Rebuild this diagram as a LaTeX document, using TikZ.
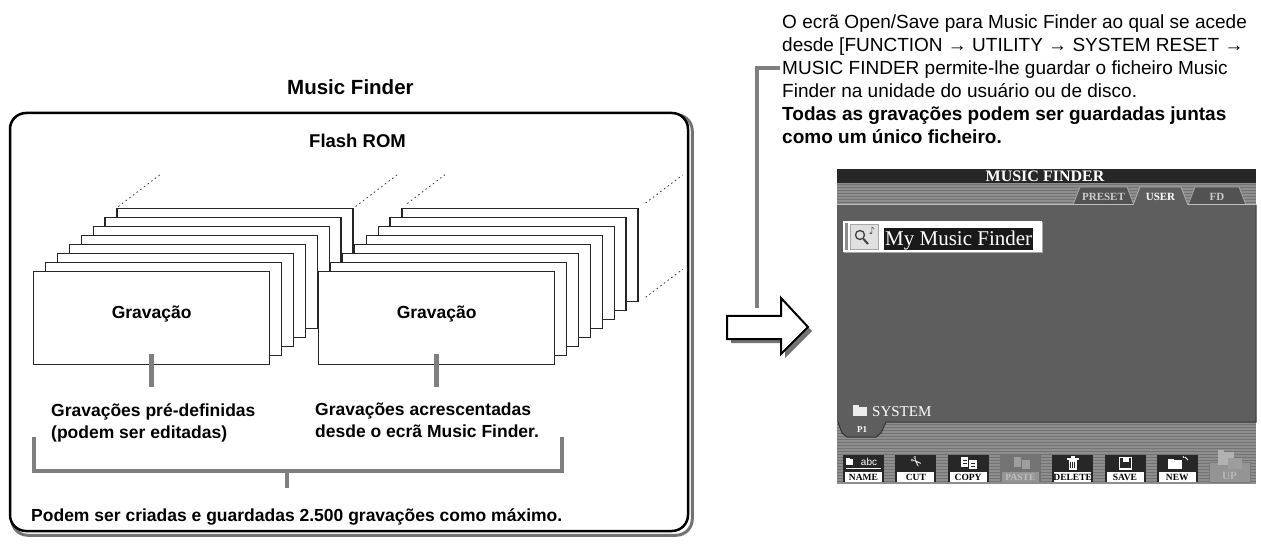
\documentclass[tikz,border=0pt]{standalone}
\usepackage{fontspec}
\setmainfont{Liberation Sans}
\newfontfamily\scrfont{Liberation Serif}
\newfontfamily\glyphfont{DejaVu Sans}
\usetikzlibrary{backgrounds}

\definecolor{bargray}{HTML}{7F7F7F}
\definecolor{panelgray}{HTML}{5E5E5E}
\definecolor{stripA}{HTML}{8E8E8E}
\definecolor{stripB}{HTML}{737373}
\definecolor{tabgray}{HTML}{525252}
\definecolor{iconbg}{HTML}{272727}

\tikzset{
  card/.style={draw=black!85, fill=white, line width=1.3pt, minimum width=236pt,
    minimum height=93pt, inner sep=0pt, anchor=north west},
  graybar/.style={draw=bargray, line width=4.5pt},
  dotline/.style={draw=black!75, line width=0.8pt, dash pattern=on 1.6pt off 3pt},
  boldtxt/.style={font={\bfseries\fontsize{17.5}{22}\selectfont}, inner sep=0pt, align=left},
  scrtxt/.style={font={\scrfont\bfseries\fontsize{#1}{#1}\selectfont}, inner sep=0pt},
  scrtxt/.default=10,
}

% one soft key of the screen: index, label, key colour, label background, label colour
\newcommand\scrbutton[5]{%
  \pgfmathsetmacro\bx{843+52.3*#1}
  \fill[#3] (\bx,455) rectangle ++(41,27);
  \fill[#4] (\bx+2,472) rectangle ++(37,9.5);
  \node[scrtxt=9.5, text=#5] (key#1) at (\bx+20.5,477) {#2};
}

\begin{document}
\begin{tikzpicture}[x=1pt,y=-1pt]
\useasboundingbox (0,0) rectangle (1261,545);

% ---------- Music Finder frame ----------
\node[draw=black, line width=2.5pt, fill=white, rounded corners=16pt,
      minimum width=678pt, minimum height=418pt, inner sep=0pt] (mf) at (349,322) {};
\begin{scope}[on background layer]
  \draw[black!55, line width=3pt, rounded corners=16pt]
    ([xshift=3pt,yshift=-3pt]mf.north west) rectangle ([xshift=3pt,yshift=-3pt]mf.south east);
\end{scope}

\node[anchor=base west, inner sep=0pt, font={\bfseries\fontsize{20.5}{24}\selectfont}] (title) at (287,95) {Music Finder};
\node[anchor=base west, inner sep=0pt, font={\bfseries\fontsize{18.5}{22}\selectfont}] (rom) at (309,148) {Flash ROM};

% ---------- stacks of records ----------
\foreach \k in {7,...,0}
  \node[card] (L\k) at ({33+11.9*\k},{271-9*\k}) {};
\foreach \k in {7,...,0}
  \node[card] (R\k) at ({318+11.9*\k},{271-9*\k}) {};

\node[boldtxt] (gL) at ([yshift=4pt]L0.center) {Gravação};
\node[boldtxt] (gR) at ([yshift=4pt]R0.center) {Gravação};

\draw[dotline] ([xshift=2pt,yshift=1.5pt]L7.north west) -- ++(42,-32);
\draw[dotline] ([xshift=2pt,yshift=1.5pt]L7.north east) -- ++(42,-32);
\draw[dotline] ([xshift=6pt,yshift=4.5pt]R7.north west) -- ++(38,-29);
\draw[dotline] ([xshift=7pt,yshift=5pt]R7.north east) -- ++(37,-28);
\draw[dotline] ([xshift=7pt,yshift=5pt]R7.south east) -- ++(37,-28);

% ---------- labels and brackets ----------
\node[boldtxt, anchor=north west] (preset) at (51,403) {Gravações pré-definidas\\(podem ser editadas)};
\node[boldtxt, anchor=north west] (added) at (315,403) {Gravações acrescentadas\\desde o ecrã Music Finder.};
\draw[graybar] ([yshift=11pt]L0.south) -- ++(0,33);
\draw[graybar] ([yshift=11pt]R0.south) -- ++(0,33);

\coordinate (brL) at (34,437);
\coordinate (brR) at (562,437);
\coordinate (brM) at (287,471);
\draw[graybar] (brL) |- (brR |- brM) -- (brR);
\node[boldtxt, anchor=base west] (limit) at (31,521) {Podem ser criadas e guardadas 2.500 gravações como máximo.};
\draw[graybar] (brM) -- ++(0,17);

% ---------- hollow arrow ----------
\fill[black!55, shift={(4,4)}] (727,316) -- (781,316) -- (781,298) -- (808,327)
  -- (781,354) -- (781,339) -- (727,339) -- cycle;
\draw[line width=2pt, fill=white, line join=miter] (727,316) -- (781,316) -- (781,298)
  -- (808,327) -- (781,354) -- (781,339) -- (727,339) -- cycle;

% ---------- explanatory note ----------
\node[anchor=north west, inner sep=0pt, align=left, font={\fontsize{19}{23}\selectfont}] (note) at (782,14.5)
  {O ecrã Open/Save para Music Finder ao qual se acede\\
   desde [FUNCTION → UTILITY → SYSTEM RESET →\\
   MUSIC FINDER permite-lhe guardar o ficheiro Music\\
   Finder na unidade do usuário ou de disco.\\
   \textbf{Todas as gravações podem ser guardadas juntas}\\
   \textbf{como um único ficheiro.}};
\coordinate (arrowtop) at (757,308);
\coordinate (notehook) at (780,68);
\draw[graybar] (arrowtop) |- (notehook);

% ---------- Open/Save screen ----------
\fill[iconbg] (837,169) rectangle (1256,183.5);
\node[scrtxt=16, text=white] (scrtitle) at (1045,176.5) {MUSIC FINDER};

\fill[stripA] (837,183.5) rectangle (1256,205);
\foreach \yy in {185,188,...,204} \draw[stripB, line width=1pt] (837,\yy) -- (1256,\yy);
\fill[stripA] (837,422) rectangle (1256,484);
\foreach \yy in {424,427,...,483} \draw[stripB, line width=1pt] (837,\yy) -- (1256,\yy);

% page tabs
\fill[tabgray] (1073,205) -- (1080,187) -- (1127,187) -- (1134,205) -- cycle;
\draw[black!35, line width=0.8pt] (1073,205) -- (1080,187) -- (1127,187) -- (1134,205);
\fill[tabgray] (1188,205) -- (1195,187) -- (1239,187) -- (1246,205) -- cycle;
\draw[black!35, line width=0.8pt] (1188,205) -- (1195,187) -- (1239,187) -- (1246,205);
\fill[panelgray] (1133,206) -- (1140,187) -- (1181,187) -- (1188,206) -- cycle;
\draw[black!30, line width=0.8pt] (1133,205) -- (1140,187) -- (1181,187) -- (1188,205);
\node[scrtxt=11, text=black!20] (tabpre) at (1103.5,196.5) {PRESET};
\node[scrtxt=11, text=white] (tabuser) at (1160.5,196.5) {USER};
\node[scrtxt=11, text=black!20] (tabfd) at (1217,196.5) {FD};

% file panel with page tab
\fill[panelgray] (837,205) rectangle (1256,422);
\fill[panelgray] (837,421) -- (842,433) -- (847,437) -- (876,437) -- (881,433) -- (886,421) -- cycle;
\draw[black!25, line width=1pt] (837,205) -- (1133,205) (1188,205) -- (1256,205);
\draw[black!80, line width=1pt] (1256,205) -- (1256,422) -- (886,422) -- (881,433) -- (876,437)
  -- (847,437) -- (842,433) -- (838,422);
\node[scrtxt=9, text=white] (pageone) at (862,430) {P1};

% selected file entry
\fill[black!35] (844,222) rectangle (1043,253.5);
\fill[white] (843,221) rectangle (1042,252);
\fill[black!45] (845,223) rectangle (847.5,250);
\fill[black!12] (850,224) rectangle (878,249);
\draw[black!35, line width=0.6pt] (850,224) rectangle (878,249);
\draw[black!75, line width=1.3pt] (860,235) circle (4.5pt);
\draw[black!75, line width=2pt] (863.5,239) -- (868,244);
\node[inner sep=0pt, font={\glyphfont\fontsize{10}{10}\selectfont}, text=black!70] (notesign) at (872,231) {♪};
\fill[black!90] (884,228) rectangle (1033,250);
\node[anchor=west, inner sep=0pt, text=white, font={\scrfont\fontsize{21}{21}\selectfont}] (entry) at (885,240) {My Music Finder};

% folder entry
\fill[black!8] (853,407) rectangle (867,416);
\fill[black!8] (853,405) rectangle (859,408);
\node[anchor=west, inner sep=0pt, text=white, font={\scrfont\fontsize{15}{15}\selectfont}] (sysdir) at (872,411.5) {SYSTEM};

% soft keys
\scrbutton{0}{NAME}{iconbg}{white}{black}
\scrbutton{1}{CUT}{iconbg}{white}{black}
\scrbutton{2}{COPY}{iconbg}{white}{black}
\scrbutton{3}{PASTE}{black!55}{black!42}{black!25}
\scrbutton{4}{DELETE}{iconbg}{white}{black}
\scrbutton{5}{SAVE}{iconbg}{white}{black}
\scrbutton{6}{NEW}{iconbg}{white}{black}

% key icons
\fill[white] (846,459) rectangle (853,465); \fill[white] (846,458) rectangle (849.5,459.5);
\node[inner sep=0pt, text=white, font={\fontsize{10}{10}\selectfont}] (abc) at (869,461.5) {abc};
\draw[white, line width=1pt] (846,468) -- (881,468);
\node[inner sep=0pt, text=white, rotate=-45, font={\glyphfont\fontsize{14}{14}\selectfont}] (scissors) at (915.6,463) {✂};
\fill[white] (961,457) rectangle (968,467); \fill[white] (969,460) rectangle (977,469);
\draw[iconbg, line width=0.6pt] (962.5,460) -- (966.5,460) (962.5,463) -- (966.5,463) (971,463) -- (975,463) (971,466) -- (975,466);
\fill[black!38] (1014,457) rectangle (1021,467); \fill[black!38] (1022,460) rectangle (1030,469);
\fill[white] (1068.5,460) rectangle (1076.5,469.5); \fill[white] (1066.5,457.5) rectangle (1078.5,459.5);
\fill[white] (1070.5,456) rectangle (1074.5,457.5);
\draw[iconbg, line width=0.6pt] (1070.5,461.5) -- (1070.5,468) (1072.5,461.5) -- (1072.5,468) (1074.5,461.5) -- (1074.5,468);
\draw[white, line width=1.2pt] (1119.5,457.5) rectangle (1131.5,469);
\fill[white] (1122.5,457.5) rectangle (1128.5,462);
\fill[white] (1168,460) rectangle (1182,469); \fill[white] (1168,458.5) rectangle (1174,460.5);
\draw[white, line width=0.8pt] (1185,457) -- (1188,460) (1183,456) -- (1184,458);

% UP key (inactive)
\fill[black!42] (1209,462) rectangle (1250,482);
\draw[black!52, line width=0.8pt] (1209,462) rectangle (1250,482);
\fill[black!30] (1218,452) rectangle (1234,465); \fill[black!30] (1218,450) rectangle (1224,453);
\fill[black!38] (1228,458) rectangle (1242,469);
\node[scrtxt=11, text=black!28] (keyup) at (1229.5,476) {UP};
\end{tikzpicture}
\end{document}
